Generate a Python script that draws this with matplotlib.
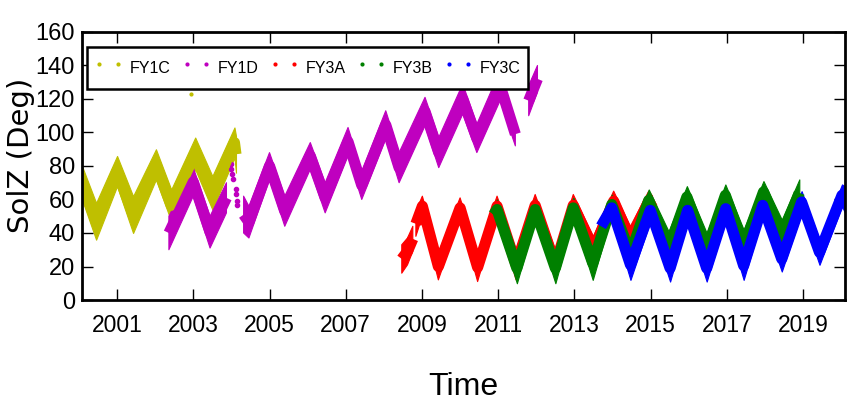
import numpy as np
import matplotlib
matplotlib.use('Agg')
import matplotlib.pyplot as plt
from matplotlib.lines import Line2D
from matplotlib import font_manager

nan = np.nan

# upper / lower edge of each satellite's SolZ band, read at the turning points
fy1c_t = [2000.08, 2000.45, 2001.00, 2001.42, 2002.02, 2002.42, 2003.05, 2003.50, 2004.08, 2004.12]
fy1c_hi = [80, 58, 86, 62, 90, 66, 97, 74, 103, 98]
fy1c_lo = [60, 36, 68, 40, 72, 47, 78, 54, 85, 76]
fy1c_stray_t = [2002.95]
fy1c_stray_v = [123]

fy1d_t = [2002.36, 2003.00, 2003.44, 2003.87, nan,
          2004.32, 2004.46, 2005.00, 2005.40, 2006.07, 2006.46, 2007.06, 2007.42,
          2008.05, 2008.40, 2009.08, 2009.44, 2010.07, 2010.44, 2011.05, 2011.45, nan,
          2011.80, 2012.03]
fy1d_hi = [50, 79, 50, 70, nan,
           62, 56, 88, 62, 94, 70, 103, 77, 113, 88, 121, 97, 129, 105, 137, 106, nan,
           128, 140]
fy1d_lo = [30, 62, 31, 52, nan,
           40, 37, 72, 44, 78, 52, 86, 60, 96, 70, 104, 79, 111, 88, 119, 92, nan,
           110, 124]
fy1d_gap_t = [2003.98, 2004.00, 2004.02, 2004.04, 2004.12, 2004.13, 2004.14, 2004.15]
fy1d_gap_v = [81, 78, 75, 72, 66, 63, 59, 57]

fy3a_t = [2008.47, 2008.62, 2008.76, nan,
          2008.84, 2009.01, 2009.43, 2010.00, 2010.46, 2010.97, 2011.47, 2011.97,
          2012.50, 2012.97, 2013.50, 2014.03, 2014.47, 2014.95, 2015.05]
fy3a_hi = [33, 37, 44, nan, 53, 62, 28, 61, 28, 62, 30, 63, 30, 63, 38, 65, 44, 65, 62]
fy3a_lo = [16, 21, 29, nan, 38, 50, 12, 49, 11, 50, 12, 50, 12, 50, 22, 53, 28, 53, 48]

fy3b_t = [2010.88, 2010.97, 2011.49, 2011.97, 2012.50, 2012.97, 2013.48, 2013.98, 2014.47,
          2014.95, 2015.47, 2015.95, 2016.47, 2016.96, 2017.44, 2017.96, 2018.44, 2018.90]
fy3b_hi = [57, 60, 28, 60, 28, 61, 32, 63, 37, 66, 41, 68, 40, 69, 42, 71, 48, 72]
fy3b_lo = [45, 48, 10, 48, 10, 49, 12, 51, 18, 53, 20, 55, 20, 56, 22, 58, 28, 56]

fy3c_t = [2013.70, 2013.98, 2014.47, 2014.99, 2015.51, 2015.97, 2016.47, 2016.97, 2017.44,
          2017.94, 2018.44, 2018.96, 2019.43, 2020.02, 2020.10]
fy3c_hi = [50, 61, 30, 60, 27, 60, 27, 61, 29, 63, 32, 65, 36, 69, 68]
fy3c_lo = [38, 49, 12, 47, 11, 47, 11, 48, 12, 50, 17, 52, 21, 56, 52]

names = ['FY1C', 'FY1D', 'FY3A', 'FY3B', 'FY3C']
colors = [(0.75, 0.75, 0), (0.75, 0, 0.75), 'r', (0, 0.5, 0), 'b']
year_ticks = [2001, 2003, 2005, 2007, 2009, 2011, 2013, 2015, 2017, 2019]
y_ticks = [0, 20, 40, 60, 80, 100, 120, 140, 160]

installed = {f.name for f in font_manager.fontManager.ttflist}
narrow = 'Liberation Sans Narrow' if 'Liberation Sans Narrow' in installed else 'Liberation Sans'

fig = plt.figure(figsize=(8.48, 4.08), dpi=100)
ax = fig.add_axes([0.0967, 0.2647, 0.8998, 0.6569])

bands = [(fy1c_t, fy1c_hi, fy1c_lo), (fy1d_t, fy1d_hi, fy1d_lo), (fy3a_t, fy3a_hi, fy3a_lo),
         (fy3b_t, fy3b_hi, fy3b_lo), (fy3c_t, fy3c_hi, fy3c_lo)]
for (t, hi, lo), c in zip(bands, colors):
    t = np.array(t, float)
    hi = np.array(hi, float)
    lo = np.array(lo, float)
    ax.fill_between(t, lo, hi, color=c, lw=0.8, edgecolor=c)
    # the scatter cloud is also wide in time, so the flanks get a thick stroke
    ax.plot(t, (hi + lo) / 2, color=c, lw=8, solid_joinstyle='round',
            solid_capstyle='butt')
    if c == colors[0]:
        ax.scatter(fy1c_stray_t, fy1c_stray_v, s=4, color=c)
    if c == colors[1]:
        ax.scatter(fy1d_gap_t, fy1d_gap_v, s=9, color=c)

ax.set_xlim(2000.08, 2020.1)
ax.set_ylim(0, 160)
ax.set_xticks(year_ticks)
ax.set_xticklabels([str(y) for y in year_ticks], family=narrow, fontsize=16.5)
ax.set_yticks(y_ticks)
ax.set_yticklabels([str(v) for v in y_ticks], family=narrow, fontsize=17)
ax.tick_params(direction='in', length=8, width=1, top=True, right=True)
ax.tick_params(axis='x', pad=10)
ax.tick_params(axis='y', pad=5)
for sp in ax.spines.values():
    sp.set_linewidth(2)

ax.set_xlabel('Time', family=narrow, fontsize=23, labelpad=25)
ax.set_ylabel('SolZ (Deg)', family='DejaVu Sans', fontsize=21)
ax.yaxis.set_label_coords(-0.062, 0.54)

handles = [Line2D([], [], ls='none', marker='o', ms=3, mec='none', color=c) for c in colors]
leg = ax.legend(handles, names, ncol=5, loc='upper left', bbox_to_anchor=(0.0066, 0.944),
                numpoints=2, handlelength=1.8, handleheight=2.3, handletextpad=0.4,
                columnspacing=0.75, borderaxespad=0, borderpad=0.45, fancybox=False,
                framealpha=1, edgecolor='black', prop={'family': narrow, 'size': 11.5})
leg.get_frame().set_linewidth(1.8)
leg.set_zorder(5)

fig.savefig('out.png', dpi=100)
